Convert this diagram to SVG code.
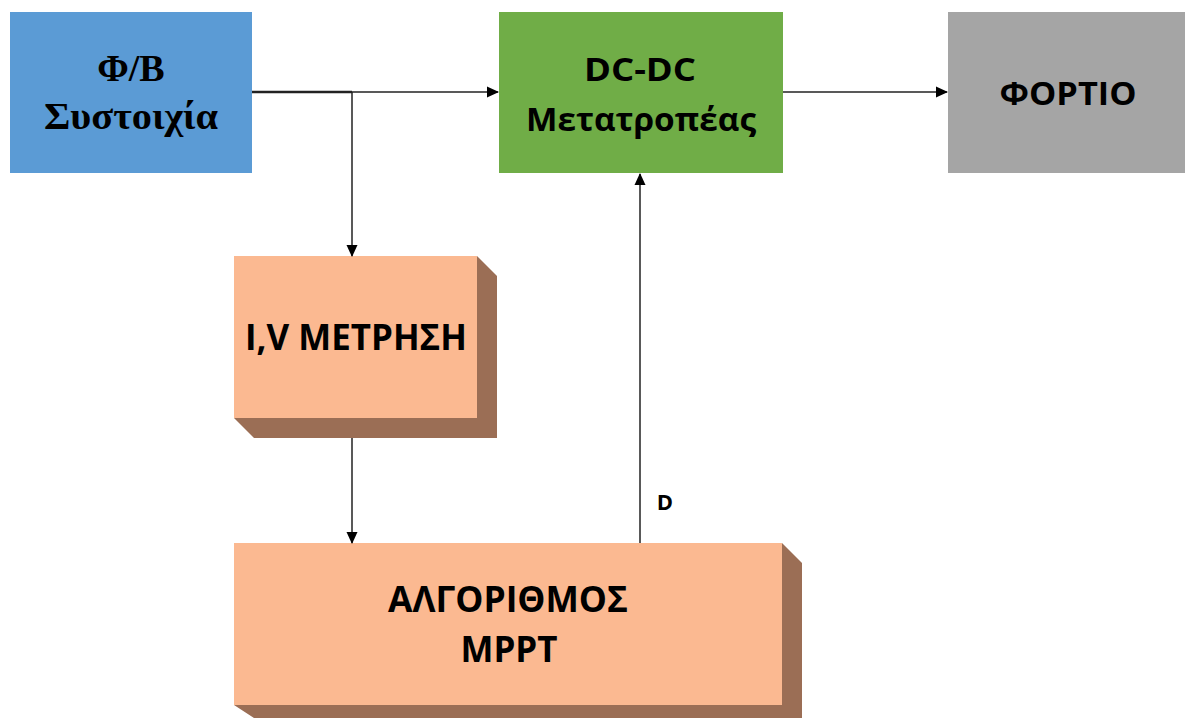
<svg xmlns="http://www.w3.org/2000/svg" width="1185" height="718" viewBox="0 0 1185 718">
<style>
.lbl{font-family:"Open Sans","Noto Sans",sans-serif;font-weight:bold;fill:#000;text-anchor:middle}
.ser{font-family:"Liberation Serif","DejaVu Serif","Times New Roman",serif;font-weight:bold;fill:#000;text-anchor:middle}
.face{fill:#fbb991}
.side{fill:#9b6e55}
.ln{stroke:#222;stroke-width:1.5;fill:none}
</style>
<defs>
<marker id="ah" markerWidth="12" markerHeight="12" refX="11" refY="6" orient="auto" markerUnits="userSpaceOnUse">
<path d="M0,0.5 L12,6 L0,11.5 Z" fill="#000"/>
</marker>
</defs>
<rect width="1185" height="718" fill="#fff"/>
<g id="pv">
<rect x="10" y="12" width="242" height="161" fill="#5b9bd5"/>
<text class="ser" x="131" y="81" font-size="38">Φ/Β</text>
<text class="ser" x="131" y="129" font-size="38" textLength="174" lengthAdjust="spacingAndGlyphs">Συστοιχία</text>
</g>
<g id="dcdc">
<rect x="499" y="12" width="284" height="161" fill="#70ad47"/>
<text class="lbl" x="640" y="81" font-size="33" textLength="112" lengthAdjust="spacingAndGlyphs">DC-DC</text>
<text class="lbl" x="641" y="131" font-size="33" textLength="230" lengthAdjust="spacingAndGlyphs">Μετατροπέας</text>
</g>
<g id="load">
<rect x="948" y="12" width="237" height="161" fill="#a5a5a5"/>
<text class="lbl" x="1068" y="105" font-size="33" textLength="137" lengthAdjust="spacingAndGlyphs">ΦΟΡΤΙΟ</text>
</g>
<g id="meas">
<polygon class="side" points="477,256 497,276 497,438 254,438 234,418 477,418"/>
<rect class="face" x="234" y="256" width="243" height="162"/>
<text class="lbl" x="356" y="350" font-size="35" textLength="222" lengthAdjust="spacingAndGlyphs">I,V ΜΕΤΡΗΣΗ</text>
</g>
<g id="mppt">
<polygon class="side" points="782,543 802,563 802,718 254,718 234,705 782,705"/>
<rect class="face" x="234" y="543" width="548" height="162"/>
<text class="lbl" x="508" y="612" font-size="35" textLength="240" lengthAdjust="spacingAndGlyphs">ΑΛΓΟΡΙΘΜΟΣ</text>
<text class="lbl" x="509" y="662" font-size="35" textLength="97" lengthAdjust="spacingAndGlyphs">MPPT</text>
</g>
<g id="connectors">
<line x1="252" y1="92" x2="352" y2="92" stroke="#222" stroke-width="2.5"/>
<line class="ln" x1="352" y1="92" x2="498" y2="92" marker-end="url(#ah)"/>
<line class="ln" x1="352" y1="92" x2="352" y2="256" marker-end="url(#ah)"/>
<line class="ln" x1="783" y1="92" x2="947" y2="92" marker-end="url(#ah)"/>
<line class="ln" x1="352" y1="438" x2="352" y2="543" marker-end="url(#ah)"/>
<line class="ln" x1="640" y1="543" x2="640" y2="174" marker-end="url(#ah)"/>
<text class="lbl" x="665" y="510" font-size="22">D</text>
</g>
</svg>
